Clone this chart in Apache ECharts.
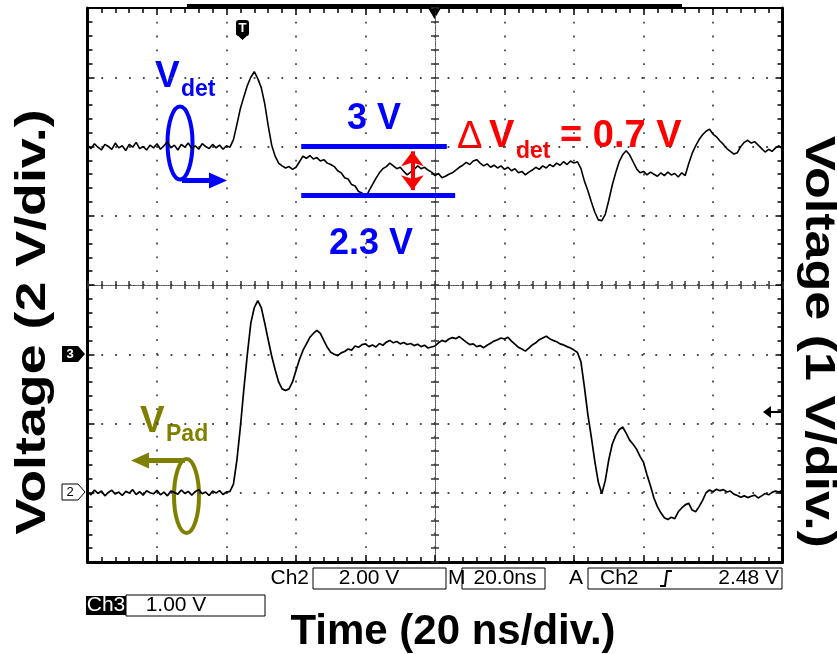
<!DOCTYPE html>
<html><head><meta charset="utf-8">
<script src="https://cdn.jsdelivr.net/npm/echarts@6/dist/echarts.min.js"></script>
<style>html,body{margin:0;padding:0;background:#fff}#c{width:837px;height:654px}</style>
</head><body><div id="c"></div>
<script>
// ---- data ----
const sampleStepNs = 1;            // one sample per ns, 0..200 ns
// Ch3: V_det (1 V/div), volts
const vDet = [
 3.02,2.97,3.04,2.99,2.95,3.03,3.00,2.96,3.05,2.98,
 3.01,2.94,3.03,2.99,3.06,2.97,3.00,2.95,3.02,2.98,
 3.04,2.96,3.01,3.07,2.98,3.02,2.95,3.03,2.99,3.05,
 2.97,3.01,2.96,3.04,3.00,2.97,3.03,2.98,3.02,2.96,
 3.01,2.99,3.10,3.32,3.55,3.72,3.88,4.00,4.08,3.98,
 3.85,3.62,3.30,3.02,2.86,2.76,2.72,2.69,2.71,2.67,
 2.70,2.78,2.86,2.83,2.87,2.82,2.84,2.79,2.81,2.76,
 2.74,2.71,2.65,2.62,2.55,2.53,2.45,2.43,2.35,2.33,
 2.26,2.36,2.45,2.54,2.62,2.68,2.71,2.76,2.72,2.68,
 2.70,2.64,2.59,2.63,2.67,2.72,2.68,2.70,2.66,2.63,
 2.58,2.61,2.55,2.57,2.60,2.62,2.66,2.70,2.73,2.77,
 2.74,2.79,2.81,2.76,2.72,2.75,2.70,2.73,2.69,2.72,
 2.67,2.70,2.65,2.68,2.62,2.64,2.59,2.63,2.66,2.70,
 2.67,2.72,2.69,2.74,2.71,2.76,2.73,2.78,2.74,2.79,
 2.76,2.78,2.68,2.50,2.36,2.20,2.05,1.94,1.93,2.02,
 2.22,2.44,2.62,2.78,2.88,2.94,2.88,2.78,2.68,2.62,
 2.64,2.59,2.63,2.60,2.57,2.62,2.58,2.63,2.59,2.61,
 2.56,2.62,2.58,2.75,2.90,3.01,3.10,3.17,3.22,3.25,
 3.18,3.14,3.08,3.03,2.97,2.93,2.89,2.91,3.00,3.06,
 3.09,3.05,3.07,3.02,2.97,2.92,2.96,2.93,2.98,3.01,
 2.96
];
// Ch2: V_Pad (2 V/div), volts
const vPad = [
 0.03,-0.06,0.08,-0.02,0.05,-0.09,0.01,0.07,-0.04,0.02,
 -0.08,0.04,-0.01,0.09,-0.05,0.03,-0.07,0.06,0.00,-0.03,
 0.07,-0.06,0.02,-0.09,0.05,0.01,-0.04,0.08,-0.02,0.04,
 -0.07,0.03,0.09,-0.03,0.02,-0.08,0.05,-0.01,0.06,-0.05,
 0.02,0.04,0.25,0.95,1.90,3.00,4.00,4.90,5.35,5.55,
 5.35,4.90,4.42,3.95,3.55,3.20,3.00,2.95,3.00,3.20,
 3.53,3.85,4.11,4.30,4.49,4.60,4.69,4.60,4.40,4.20,
 4.06,4.00,3.96,4.04,4.08,4.15,4.12,4.24,4.20,4.28,
 4.30,4.22,4.27,4.21,4.31,4.26,4.35,4.40,4.33,4.37,
 4.30,4.34,4.28,4.31,4.25,4.29,4.22,4.26,4.18,4.21,
 4.24,4.33,4.40,4.36,4.44,4.48,4.45,4.51,4.43,4.35,
 4.28,4.30,4.22,4.25,4.19,4.26,4.32,4.38,4.42,4.47,
 4.44,4.49,4.38,4.29,4.20,4.15,4.09,4.18,4.27,4.33,
 4.42,4.47,4.52,4.45,4.40,4.36,4.30,4.27,4.22,4.18,
 4.12,4.05,3.78,3.05,2.25,1.60,0.90,0.30,-0.03,0.35,
 0.95,1.40,1.65,1.82,1.90,1.72,1.52,1.40,1.26,1.05,
 0.88,0.52,0.20,-0.15,-0.40,-0.58,-0.72,-0.77,-0.71,-0.75,
 -0.55,-0.44,-0.35,-0.30,-0.50,-0.55,-0.40,-0.22,0.00,0.08,
 0.03,0.10,0.06,0.09,0.02,0.05,-0.04,-0.08,-0.13,-0.09,
 -0.14,-0.10,-0.07,-0.15,-0.09,-0.02,-0.06,0.01,0.05,0.02,
 0.07
];
const levelHigh = 3.0, levelLow = 2.3;      // V, marked levels on V_det
const levelLineStart = 61.5, levelHighEnd = 103.4, levelLowEnd = 105.8; // ns
const deltaArrowTime = 93.5;                // ns
const readout = {ch2:'2.00 V', ch3:'1.00 V', time:'20.0ns', trig:'2.48 V'};
const axisTitles = {x:'Time (20 ns/div.)', left:'Voltage (2 V/div.)', right:'Voltage (1 V/div.)'};

const vDetData = vDet.map((v,i)=>[i*sampleStepNs, v]);
const vPadData = vPad.map((v,i)=>[i*sampleStepNs, v]);

const FONT = 'Liberation Sans, Arial, Helvetica, sans-serif';
const blk = '#000';
const GRID_DOT = {color:'#4a4a4a', width:1.8, type:[1.8, 12.05], opacity:1};

function borderAxis(pos, w){
  return {type:'value', position:pos, min:0, max:200, interval:20,
    axisLine:{show:true, onZero:false, lineStyle:{color:blk, width:w}},
    axisTick:{show:true, inside:true, length:7, lineStyle:{color:blk, width:1.5}},
    minorTick:{show:true, splitNumber:5, length:5, lineStyle:{color:blk, width:1.5}},
    axisLabel:{show:false}, splitLine:{show:false}};
}
function centerAxis(pos, min, max, interval){
  return {type:'value', position:pos, min:min, max:max, interval:interval,
    axisLine:{show:true, onZero:true, onZeroAxisIndex:2, lineStyle:{color:'#555', width:1, type:[1,1.3]}},
    axisTick:{show:true, inside:true, length:4, lineStyle:{color:'#333', width:1.5}},
    minorTick:{show:true, splitNumber:5, length:4, lineStyle:{color:'#333', width:1.5}},
    axisLabel:{show:false}, splitLine:{show:false}};
}

const chart = echarts.init(document.getElementById('c'), null, {renderer:'canvas'});
const option = {
  animation:false,
  backgroundColor:'#fff',
  grid:{left:87.5, right:54.5, top:8, bottom:92, containLabel:false, outerBoundsMode:'none'},
  xAxis:[
    Object.assign(borderAxis('bottom',3), {
      splitLine:{show:true, lineStyle:Object.assign({}, GRID_DOT, {type:[1.8, 12.0]})},
      name:axisTitles.x, nameLocation:'middle', nameGap:49,
      nameTextStyle:{fontFamily:FONT, fontWeight:'bold', fontSize:42, color:blk, padding:[0,0,0,36]}
    }),
    borderAxis('top',2),
    {type:'value', show:false, min:-5, max:5, axisLine:{onZero:false}},
    centerAxis('bottom',0,200,20),
    centerAxis('top',0,200,20)
  ],
  yAxis:[
    {type:'value', position:'left', min:-2, max:14, interval:2,
      axisLine:{show:true, onZero:false, lineStyle:{color:blk, width:3}},
      axisTick:{show:true, inside:true, length:7, lineStyle:{color:blk, width:1.5}},
      minorTick:{show:true, splitNumber:5, length:5, lineStyle:{color:blk, width:1.5}},
      axisLabel:{show:false},
      splitLine:{show:true, lineStyle:Object.assign({}, GRID_DOT)}},
    {type:'value', position:'right', min:-3, max:5, interval:1,
      axisLine:{show:true, onZero:false, lineStyle:{color:blk, width:3}},
      axisTick:{show:true, inside:true, length:7, lineStyle:{color:blk, width:1.5}},
      minorTick:{show:true, splitNumber:5, length:5, lineStyle:{color:blk, width:1.5}},
      axisLabel:{show:false}, splitLine:{show:false}},
    {type:'value', show:false, min:-4, max:4, axisLine:{onZero:false}},
    centerAxis('left',-4,4,1),
    centerAxis('right',-4,4,1)
  ],
  series:[
    {type:'line', name:'V_Pad (Ch2)', xAxisIndex:0, yAxisIndex:0, data:vPadData,
      showSymbol:false, symbol:'none', lineStyle:{color:blk, width:1.7}, z:3},
    {type:'line', name:'V_det (Ch3)', xAxisIndex:0, yAxisIndex:1, data:vDetData,
      showSymbol:false, symbol:'none', lineStyle:{color:blk, width:1.6}, z:3,
      markLine:{silent:true, animation:false, symbol:['none','none'], label:{show:false},
        data:[
          [{coord:[levelLineStart, levelHigh], lineStyle:{color:'#0000ff', width:5, type:'solid'}}, {coord:[levelHighEnd, levelHigh]}],
          [{coord:[levelLineStart, levelLow], lineStyle:{color:'#0000ff', width:5, type:'solid'}}, {coord:[levelLowEnd, levelLow]}],
          [{coord:[deltaArrowTime, levelLow+0.07], symbol:'arrow', symbolSize:[17,15], lineStyle:{color:'#ff0000', width:4, type:'solid'}},
           {coord:[deltaArrowTime, levelHigh-0.07], symbol:'arrow', symbolSize:[17,15]}]
        ],
        itemStyle:{color:'#ff0000'}
      }}
  ],
  graphic:[
    // side axis titles (stretched along the reading direction as in the picture)
    {type:'text', x:33, y:322, rotation:Math.PI/2, scaleX:1.28,
      style:{text:axisTitles.left, fill:blk, font:'bold 42px '+FONT, align:'center', verticalAlign:'middle'}},
    {type:'text', x:818, y:342, rotation:-Math.PI/2, scaleX:1.24,
      style:{text:axisTitles.right, fill:blk, font:'bold 42px '+FONT, align:'center', verticalAlign:'middle'}},
    // record-length bar on top
    {type:'rect', shape:{x:187, y:4, width:495, height:5}, style:{fill:blk}},
    // horizontal position marker
    {type:'polygon', shape:{points:[[428,8],[441,8],[434.5,19]]}, style:{fill:blk}},
    // trigger position "T"
    {type:'rect', shape:{x:236, y:20, width:13, height:16, r:3}, style:{fill:blk}},
    {type:'polygon', shape:{points:[[236,34],[249,34],[242.5,40]]}, style:{fill:blk}},
    {type:'text', x:242.5, y:28, style:{text:'T', fill:'#fff', font:'bold 13px '+FONT, align:'center', verticalAlign:'middle'}},
    // ground markers
    {type:'polygon', shape:{points:[[62,346],[78,346],[85,354],[78,362],[62,362]]}, style:{fill:blk}},
    {type:'text', x:70, y:354, style:{text:'3', fill:'#fff', font:'bold 13px '+FONT, align:'center', verticalAlign:'middle'}},
    {type:'polygon', shape:{points:[[62,484],[78,484],[85,492],[78,500],[62,500]]}, style:{fill:'#fff', stroke:blk, lineWidth:1}},
    {type:'text', x:70, y:492, style:{text:'2', fill:blk, font:'13px '+FONT, align:'center', verticalAlign:'middle'}},
    // trigger level marker
    {type:'line', shape:{x1:770, y1:412, x2:781, y2:412}, style:{stroke:blk, lineWidth:2}},
    {type:'polygon', shape:{points:[[763,412],[771,406],[771,418]]}, style:{fill:blk}},
    // V_det annotation
    {type:'text', x:155, y:77, style:{text:'V', fill:'#0000ff', font:'bold 37px '+FONT, verticalAlign:'middle'}},
    {type:'text', x:181, y:90, style:{text:'det', fill:'#0000ff', font:'bold 23px '+FONT, verticalAlign:'middle'}},
    {type:'ellipse', shape:{cx:180, cy:143, rx:12.5, ry:36.5}, style:{fill:'none', stroke:'#0000ff', lineWidth:4}},
    {type:'line', shape:{x1:182, y1:180.5, x2:213, y2:180.5}, style:{stroke:'#0000ff', lineWidth:5}},
    {type:'polygon', shape:{points:[[209,172.5],[227,180.5],[209,188.5]]}, style:{fill:'#0000ff'}},
    {type:'text', x:374, y:119, style:{text:'3 V', fill:'#0000ff', font:'bold 36px '+FONT, align:'center', verticalAlign:'middle'}},
    {type:'text', x:371, y:244, style:{text:'2.3 V', fill:'#0000ff', font:'bold 36px '+FONT, align:'center', verticalAlign:'middle'}},
    // delta annotation
    {type:'text', x:457, y:138, style:{text:'\u0394', fill:'#ff0000', font:'38px '+FONT, verticalAlign:'middle'}},
    {type:'text', x:489, y:137, style:{text:'V', fill:'#ff0000', font:'bold 38px '+FONT, verticalAlign:'middle'}},
    {type:'text', x:516, y:152, style:{text:'det', fill:'#ff0000', font:'bold 23px '+FONT, verticalAlign:'middle'}},
    {type:'text', x:560, y:137, style:{text:'= 0.7 V', fill:'#ff0000', font:'bold 38px '+FONT, verticalAlign:'middle'}},
    // V_Pad annotation
    {type:'text', x:140, y:422, style:{text:'V', fill:'#808000', font:'bold 37px '+FONT, verticalAlign:'middle'}},
    {type:'text', x:166, y:435, style:{text:'Pad', fill:'#808000', font:'bold 23px '+FONT, verticalAlign:'middle'}},
    {type:'ellipse', shape:{cx:186.5, cy:496, rx:12.5, ry:37}, style:{fill:'none', stroke:'#808000', lineWidth:4}},
    {type:'line', shape:{x1:185, y1:460.5, x2:146, y2:460.5}, style:{stroke:'#808000', lineWidth:5}},
    {type:'polygon', shape:{points:[[149,452.5],[131,460.5],[149,468.5]]}, style:{fill:'#808000'}},
    // readout row 1
    {type:'text', x:309, y:578, style:{text:'Ch2', fill:blk, font:'21px '+FONT, align:'right', verticalAlign:'middle'}},
    {type:'rect', shape:{x:313, y:568, width:133, height:21}, style:{fill:'none', stroke:blk, lineWidth:1}},
    {type:'text', x:369, y:578, style:{text:readout.ch2, fill:blk, font:'21px '+FONT, align:'center', verticalAlign:'middle'}},
    {type:'text', x:448, y:578, style:{text:'M', fill:blk, font:'21px '+FONT, verticalAlign:'middle'}},
    {type:'rect', shape:{x:462, y:568, width:83, height:21}, style:{fill:'none', stroke:blk, lineWidth:1}},
    {type:'text', x:505, y:578, style:{text:readout.time, fill:blk, font:'21px '+FONT, align:'center', verticalAlign:'middle'}},
    {type:'text', x:569, y:578, style:{text:'A', fill:blk, font:'21px '+FONT, verticalAlign:'middle'}},
    {type:'rect', shape:{x:588, y:568, width:194, height:21}, style:{fill:'none', stroke:blk, lineWidth:1}},
    {type:'text', x:600, y:578, style:{text:'Ch2', fill:blk, font:'21px '+FONT, verticalAlign:'middle'}},
    {type:'polyline', shape:{points:[[660,586],[665,586],[667,571],[672,571]]}, style:{stroke:blk, lineWidth:2, fill:'none'}},
    {type:'text', x:779, y:578, style:{text:readout.trig, fill:blk, font:'21px '+FONT, align:'right', verticalAlign:'middle'}},
    // readout row 2
    {type:'rect', shape:{x:86, y:596, width:40, height:19}, style:{fill:blk}},
    {type:'text', x:106, y:605.5, style:{text:'Ch3', fill:'#fff', font:'21px '+FONT, align:'center', verticalAlign:'middle'}},
    {type:'rect', shape:{x:126, y:595, width:139, height:21}, style:{fill:'none', stroke:blk, lineWidth:1}},
    {type:'text', x:176, y:605.5, style:{text:readout.ch3, fill:blk, font:'21px '+FONT, align:'center', verticalAlign:'middle'}}
  ]
};
chart.setOption(option);
</script></body></html>
